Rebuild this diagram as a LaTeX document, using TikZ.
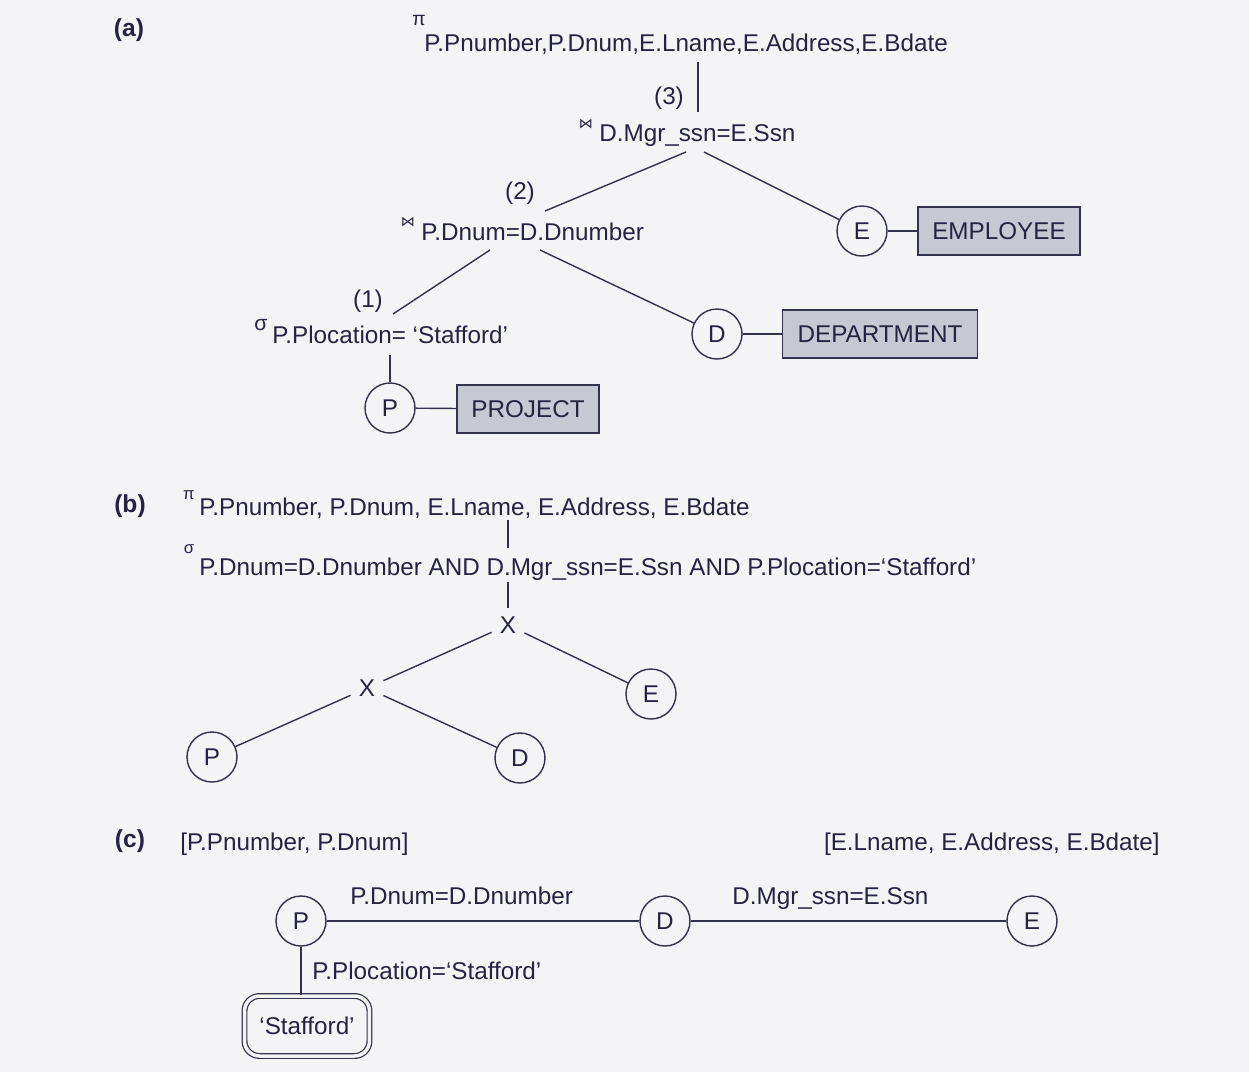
\documentclass[tikz,border=0pt]{standalone}
\usepackage{fontspec}
\setmainfont{Liberation Sans}
\newfontfamily\symfont{DejaVu Sans}
\definecolor{ink}{RGB}{36,36,66}
\definecolor{wire}{RGB}{50,50,74}
\definecolor{relfill}{RGB}{200,200,212}
\definecolor{paper}{RGB}{244,244,247}
\tikzset{
  lbl/.style={font=\fontsize{13.8}{16}\selectfont, text=ink, inner sep=0pt},
  part/.style={font=\fontsize{14}{16}\selectfont\bfseries, text=ink, inner sep=0pt},
  opsym/.style={text=ink, inner sep=0pt},
  rel/.style={circle, draw=wire, line width=0.8pt, minimum size=1cm, inner sep=0pt,
              font=\fontsize{13.8}{16}\selectfont, text=ink},
  tbl/.style={rectangle, draw=wire, fill=relfill, line width=0.8pt, minimum height=0.96cm,
              inner sep=0pt, font=\fontsize{13.8}{16}\selectfont, text=ink},
  cross/.style={inner sep=0.16cm, font=\fontsize{13.8}{16}\selectfont, text=ink},
  edge/.style={draw=wire, line width=0.8pt},
  constbox/.style={rectangle, rounded corners=0.3cm, draw=wire, line width=0.7pt,
                   double=paper, double distance=0.07cm, minimum width=2.5cm,
                   minimum height=1.2cm, inner sep=0pt,
                   font=\fontsize{13.8}{16}\selectfont, text=ink}
}
\begin{document}
\begin{tikzpicture}[x=0.02cm, y=-0.02cm]
\useasboundingbox (0,0) rectangle (1249,1072);
\fill[paper] (0,0) rectangle (1249,1072);

% ---------------- (a) query tree ----------------
\node[part] (labA) at (129,30) {(a)};
\node[opsym, font=\fontsize{11}{11}\selectfont] (piA) at (419,20) {π};
\node[lbl, anchor=base west] (projA) at (424,51) {P.Pnumber,P.Dnum,E.Lname,E.Address,E.Bdate};
\node[lbl] (n3) at (669,98) {(3)};
\node[opsym, font=\symfont\fontsize{8}{8}\selectfont] (bowA3) at (586,124) {⋈};
\node[lbl, anchor=base west] (joinA3) at (599,141) {D.Mgr\_ssn=E.Ssn};
\node[lbl] (n2) at (520,193) {(2)};
\node[opsym, font=\symfont\fontsize{8}{8}\selectfont] (bowA2) at (408,222) {⋈};
\node[lbl, anchor=base west] (joinA2) at (421,240) {P.Dnum=D.Dnumber};
\node[lbl] (n1) at (368,301) {(1)};
\node[opsym, font=\fontsize{12}{12}\selectfont] (sigA) at (261,325) {σ};
\node[lbl, anchor=base west] (selA) at (272,343) {P.Plocation= `Stafford'};

\node[rel] (aE) at (862,231) {E};
\node[tbl, minimum width=3.24cm] (emp) at (999,231) {EMPLOYEE};
\node[rel] (aD) at (717,334) {D};
\node[tbl, minimum width=3.9cm] (dept) at (880,334) {DEPARTMENT};
\node[rel] (aP) at (390,408) {P};
\node[tbl, minimum width=2.84cm] (proj) at (528,409) {PROJECT};

\coordinate (aProjOut) at (698,62);
\coordinate (aJ3In)    at (698,112);
\coordinate (aJ3L)     at (686,152);
\coordinate (aJ3R)     at (704,152);
\coordinate (aJ2In)    at (545,211);
\coordinate (aJ2L)     at (490,250);
\coordinate (aJ2R)     at (540,250);
\coordinate (aS1In)    at (393,314);
\coordinate (aS1Out)   at (390,355);

\draw[edge] (aProjOut) -- (aJ3In);
\draw[edge] (aJ3L) -- (aJ2In);
\draw[edge] (aJ3R) -- (aE);
\draw[edge] (aE) -- (emp);
\draw[edge] (aJ2L) -- (aS1In);
\draw[edge] (aJ2R) -- (aD);
\draw[edge] (aD) -- (dept);
\draw[edge] (aS1Out) -- (aP);
\draw[edge] (aP) -- (proj);

% ---------------- (b) canonical tree ----------------
\node[part] (labB) at (130,506) {(b)};
\node[opsym, font=\fontsize{9.5}{9.5}\selectfont] (piB) at (189,495) {π};
\node[lbl, anchor=base west] (projB) at (199,515) {P.Pnumber, P.Dnum, E.Lname, E.Address, E.Bdate};
\node[opsym, font=\fontsize{9.5}{9.5}\selectfont] (sigB) at (189,549) {σ};
\node[lbl, anchor=base west] (selB) at (199,575) {P.Dnum=D.Dnumber AND D.Mgr\_ssn=E.Ssn AND P.Plocation=`Stafford'};

\node[cross] (bX1) at (508,625) {X};
\node[cross] (bX2) at (367,688) {X};
\node[rel] (bE) at (651,694) {E};
\node[rel] (bP) at (212,757) {P};
\node[rel] (bD) at (520,758) {D};

\coordinate (bProjOut) at (508,520);
\coordinate (bSelIn)   at (508,548);
\coordinate (bSelOut)  at (508,582);

\draw[edge] (bProjOut) -- (bSelIn);
\draw[edge] (bSelOut) -- (bX1);
\draw[edge] (bX1) -- (bX2);
\draw[edge] (bX1) -- (bE);
\draw[edge] (bX2) -- (bP);
\draw[edge] (bX2) -- (bD);

% ---------------- (c) query graph ----------------
\node[part] (labC) at (130,841) {(c)};
\node[lbl, anchor=base west] (attrP) at (180,850) {[P.Pnumber, P.Dnum]};
\node[lbl, anchor=base east] (attrE) at (1160,850) {[E.Lname, E.Address, E.Bdate]};

\node[rel] (cP) at (301,921) {P};
\node[rel] (cD) at (665,921) {D};
\node[rel] (cE) at (1032,921) {E};
\node[constbox] (stafford) at (307,1026) {`Stafford'};

\draw[edge] (cP) -- (cD);
\draw[edge] (cD) -- (cE);
\draw[edge] (cP) -- (cP |- stafford.north);
\node[lbl, anchor=base west] (jPD) at (350,904) {P.Dnum=D.Dnumber};
\node[lbl, anchor=base west] (jDE) at (732,904) {D.Mgr\_ssn=E.Ssn};
\node[lbl, anchor=base west] (selC) at (312,979) {P.Plocation=`Stafford'};
\end{tikzpicture}
\end{document}
